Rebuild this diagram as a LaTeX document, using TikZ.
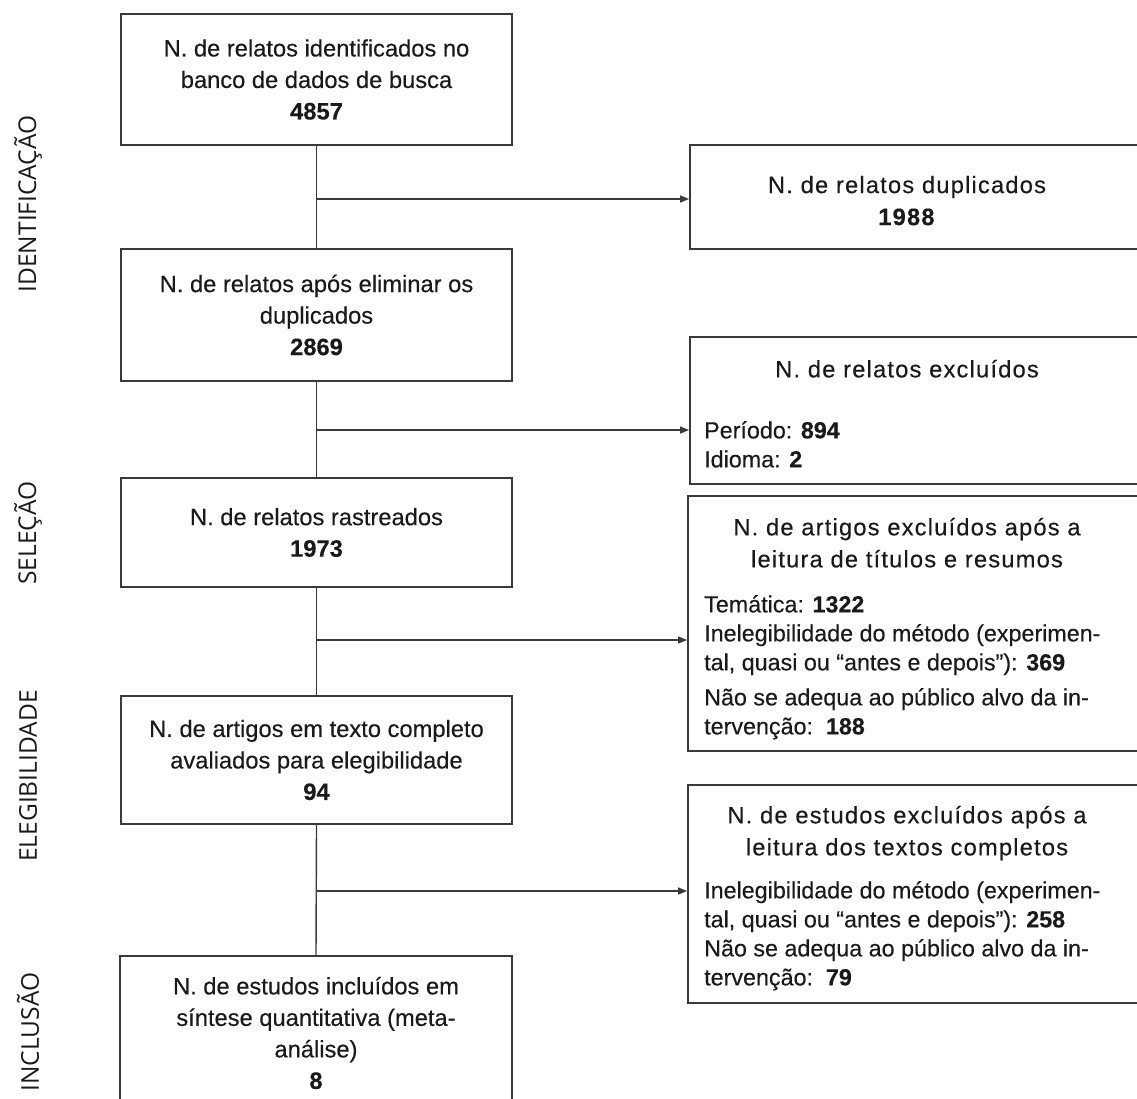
\documentclass[tikz,border=0pt]{standalone}
\usepackage{fontspec}
\setmainfont{Liberation Sans}[FakeBold=0.3]
\newfontfamily\sidefont{Open Sans}
\usetikzlibrary{arrows.meta}
\definecolor{linegray}{HTML}{3A3A3A}
\definecolor{txt}{HTML}{1A1A1A}
\newcommand\lftsz{\fontsize{23.7}{31.5}\selectfont}
\newcommand\hdsz{\fontsize{23.7}{32}\selectfont\addfontfeatures{LetterSpace=5}}
\newcommand\bdsz{\fontsize{23.3}{29}\selectfont}
\begin{document}
\begin{tikzpicture}[x=1pt,y=-1pt,
  lbox/.style={draw=linegray, line width=1.8pt, minimum width=391pt, align=center, font=\lftsz, text=txt, inner sep=0pt},
  rbox/.style={draw=linegray, line width=1.8pt, inner sep=0pt},
  rhead/.style={anchor=north, align=center, font=\hdsz, text=txt, inner sep=0pt},
  rbody/.style={anchor=north west, align=left, font=\bdsz, text=txt, inner sep=0pt},
  side/.style={rotate=90, font=\sidefont\fontsize{24.5}{30}\selectfont, text=txt, inner sep=0pt},
  conn/.style={draw=linegray, line width=1.4pt},
  arr/.style={conn, -{Triangle[length=9pt,width=7pt]}}
]
\useasboundingbox (0,0) rectangle (1137,1099);
\clip (0,0) rectangle (1137,1099);

% side labels
\node[side] (s1) at (28,204) {IDENTIFICAÇÃO};
\node[side] (s2) at (28,533) {SELEÇÃO};
\node[side] (s3) at (28,776) {ELEGIBILIDADE};
\node[side] (s4) at (28,1032) {INCLUSÃO};

% left boxes
\node[lbox, minimum height=131pt] (l1) at (316.5,79.5) {N. de relatos identificados no\\banco de dados de busca\\\textbf{4857}};
\node[lbox, minimum height=132pt] (l2) at (316.5,315) {N. de relatos após eliminar os\\duplicados\\\textbf{2869}};
\node[lbox, minimum height=109pt] (l3) at (316.5,532.5) {N. de relatos rastreados\\\textbf{1973}};
\node[lbox, minimum height=128pt] (l4) at (316.5,760) {N. de artigos em texto completo\\avaliados para elegibilidade\\\textbf{94}};
\node[lbox, minimum height=154pt, minimum width=392pt] (l5) at (316,1033) {N. de estudos incluídos em\\síntese quantitativa (meta-\\análise)\\\textbf{8}};

% right boxes
\node[rbox, minimum width=460pt, minimum height=104pt] (r1) at (920,197) {};
\node[rbox, minimum width=460pt, minimum height=147pt] (r2) at (920,410.5) {};
\node[rbox, minimum width=462pt, minimum height=255pt] (r3) at (919,623.5) {};
\node[rbox, minimum width=462pt, minimum height=218pt] (r4) at (919,894) {};

% right texts
\node[rhead] (r1h) at (907,175.7) {N. de relatos duplicados\\\textbf{1988}};
\node[rhead] (r2h) at (907,359.7) {N. de relatos excluídos};
\node[rbody] (r2b) at (704,421) {Período: \textbf{894}\\Idioma: \textbf{2}};
\node[rhead] (r3h) at (907,517.7) {N. de artigos excluídos após a\\leitura de títulos e resumos};
\node[rbody] (r3b) at (704,595) {Temática: \textbf{1322}\\Inelegibilidade do método (experimen-\\tal, quasi ou “antes e depois”): \textbf{369}\\[6pt]Não se adequa ao público alvo da in-\\tervenção:\ \ \textbf{188}};
\node[rhead] (r4h) at (907,805.7) {N. de estudos excluídos após a\\leitura dos textos completos};
\node[rbody] (r4b) at (704,881) {Inelegibilidade do método (experimen-\\tal, quasi ou “antes e depois”): \textbf{258}\\Não se adequa ao público alvo da in-\\tervenção:\ \ \textbf{79}};

% trunk
\draw[conn] (l1.south) -- (l2.north);
\draw[conn] (l2.south) -- (l3.north);
\draw[conn] (l3.south) -- (l4.north);
\draw[conn] (l4.south) -- (l5.north);

% branches
\coordinate (j1) at (316.5,199);
\coordinate (j2) at (316.5,430);
\coordinate (j3) at (316.5,640);
\coordinate (j4) at (316.5,891);
\draw[arr] (j1) -- (j1 -| r1.west);
\draw[arr] (j2) -- (j2 -| r2.west);
\draw[arr] (j3) -- (j3 -| r3.west);
\draw[arr] (j4) -- (j4 -| r4.west);
\end{tikzpicture}
\end{document}
